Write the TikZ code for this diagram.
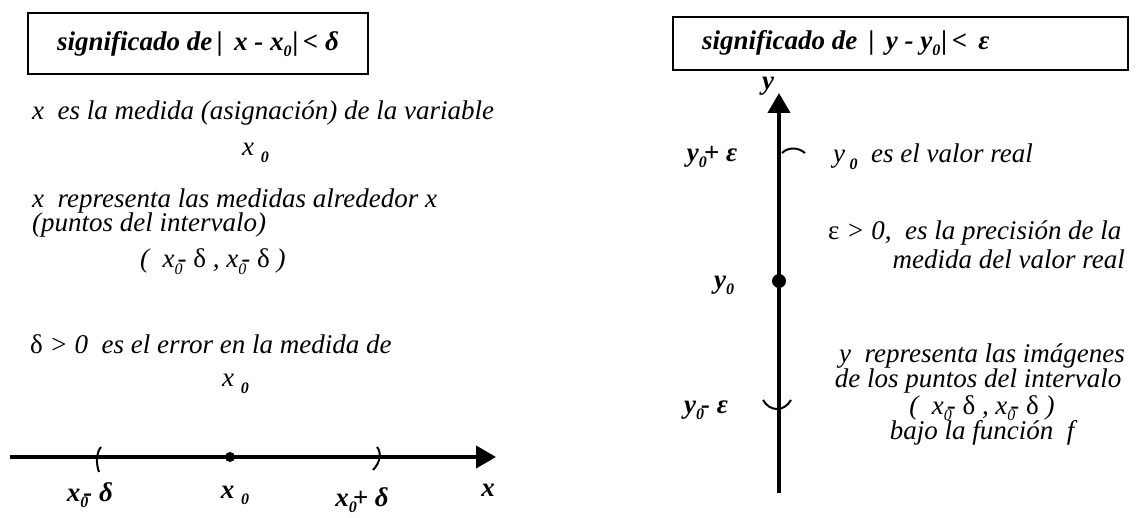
\documentclass[tikz,border=0pt]{standalone}
\usepackage{fontspec}
\setmainfont{Liberation Serif}
\usetikzlibrary{arrows.meta}
\newcommand{\sbz}[1]{\raisebox{-0.5ex}{\fontsize{16}{16}\selectfont #1}}
\begin{document}
\begin{tikzpicture}[x=1pt,y=-1pt,
  txt/.style={anchor=base west,inner sep=0pt,font=\itshape\fontsize{27}{30}\selectfont},
  ctxt/.style={anchor=base,inner sep=0pt,font=\itshape\fontsize{27}{30}\selectfont},
  btxt/.style={inner sep=0pt,font=\bfseries\itshape\fontsize{27}{30}\selectfont},
  frame/.style={draw,line width=1.5pt},
  axis/.style={line width=4pt,-{Triangle[length=20pt,width=22pt]}},
  brk/.style={line width=2pt},
  pt/.style={circle,fill,inner sep=0pt,minimum size=11pt}]
\useasboundingbox (0,0) rectangle (1138,518);
% left heading
\draw[frame] (28,13) rectangle (368,74);
\node[btxt] (hl) at (198,44) {significado de\,| \,x - x\sbz{0}\kern1pt|\,< δ};
% right heading
\draw[frame] (673,17) rectangle (1128,70);
\node[btxt,anchor=west] (hr) at (702,43) {significado de \,| \,y - y\sbz{0}\kern1pt|\,< \,ε};
% left texts
\node[txt] (t1) at (32,120) {x \ es la medida (asignación) de la variable};
\node[txt] (t2) at (242,156) {x \textbf{\sbz{0}}};
\node[txt] (t3) at (32,208) {x \ representa las medidas alrededor x};
\node[txt] (t4) at (32,232) {(puntos del intervalo)};
\node[txt] (t5) at (140,268) {( \ x\sbz{0}\kern-5pt\textup{-} \textup{δ} , x\sbz{0}\kern-5pt\textup{-} \textup{δ} )};
\node[txt] (t6) at (30,354) {\textup{δ} > 0 \ es el error en la medida de};
\node[txt] (t7) at (222,387) {x \textbf{\sbz{0}}};
% x axis
\coordinate (xa) at (10,457);
\coordinate (xb) at (496,457);
\draw[axis] (xa) -- (xb);
\node[pt,minimum size=10pt] (d1) at (230,457) {};
\draw[brk] (101,447) .. controls (96,453) and (96,464) .. (99,472);
\draw[brk] (377,447) .. controls (382,453) and (380,463) .. (373,470);
\node[btxt] (l1) at (90,495) {x\sbz{0}\kern-5pt- δ};
\node[btxt] (l2) at (235,495) {x \sbz{0}};
\node[btxt] (l3) at (362,500) {x\sbz{0}\kern-4pt+ δ};
\node[btxt] (l4) at (488,490) {x};
% y axis
\coordinate (ya) at (779,493);
\coordinate (yb) at (779,93);
\draw[axis] (ya) -- (yb);
\node[pt,minimum size=14pt] (d2) at (779,281) {};
\draw[brk] (782,153) .. controls (788,147) and (798,147) .. (805,153);
\draw[brk] (763,400) .. controls (770,412) and (784,412) .. (791,400);
\node[btxt] (y1) at (768,86) {y};
\node[btxt] (y2) at (712,157) {y\sbz{0}\kern-3pt + ε};
\node[btxt] (y3) at (724,285) {y\sbz{0}};
\node[btxt] (y4) at (706,410) {y\sbz{0}\kern-3pt - ε};
% right texts
\node[txt] (r1) at (833,163) {y\,\textbf{\sbz{0}} \ es el valor real};
\node[txt] (r2) at (828,240) {\textup{ε} > 0, \ es la precisión de la};
\node[txt,anchor=base east] (r3) at (1125,269) {medida del valor real};
\node[ctxt] (r4) at (982,363) {y \ representa las imágenes};
\node[ctxt] (r5) at (978,388) {de los puntos del intervalo};
\node[ctxt] (r6) at (982,414) {( \ x\sbz{0}\kern-5pt\textup{-} \textup{δ} , x\sbz{0}\kern-5pt\textup{-} \textup{δ} )};
\node[ctxt] (r7) at (982,439) {bajo la función \ f};
\end{tikzpicture}
\end{document}
